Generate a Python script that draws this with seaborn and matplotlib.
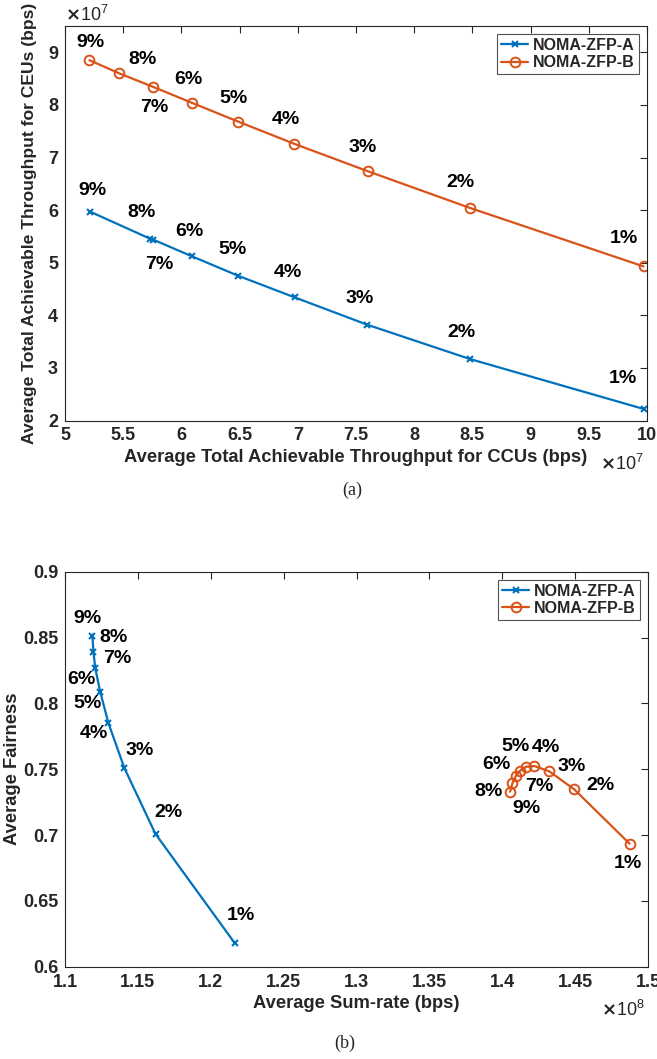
import pandas as pd
import matplotlib
matplotlib.use('Agg')
import matplotlib.pyplot as plt
import seaborn as sns

# (a) throughput for CCUs vs CEUs, in units of 1e7 bps
pct_labels = ['9%', '8%', '7%', '6%', '5%', '4%', '3%', '2%', '1%']
a_ccu_A = [5.216, 5.727, 5.756, 6.092, 6.489, 6.974, 7.598, 8.477, 9.970]
a_ceu_A = [5.97, 5.46, 5.44, 5.12, 4.75, 4.34, 3.82, 3.17, 2.22]
a_ccu_B = [5.21, 5.466, 5.76, 6.09, 6.49, 6.97, 7.60, 8.48, 9.97]
a_ceu_B = [8.85, 8.60, 8.34, 8.04, 7.68, 7.26, 6.74, 6.04, 4.93]

# (b) sum-rate (1e8 bps) vs fairness
b_rate_A = [1.1188, 1.1188, 1.1195, 1.1208, 1.1241, 1.1298, 1.1408, 1.1621, 1.2164]
b_fair_A = [0.854, 0.848, 0.839, 0.8266, 0.809, 0.785, 0.7507, 0.7008, 0.618]
b_rate_B = [1.4054, 1.4070, 1.4093, 1.4123, 1.4164, 1.4221, 1.4322, 1.4494, 1.4874]
b_fair_B = [0.7329, 0.7393, 0.7448, 0.7489, 0.7519, 0.7524, 0.7484, 0.7347, 0.6934]

# label offsets in pixels (dx, dy up positive)
off_a_A = [(2, 21), (-8, 26), (6, -25), (-3, 25), (-6, 26), (-7, 25), (-8, 26), (-8, 26), (-21, 30)]
off_a_B = [(1, 18), (23, 14), (1, -20), (-4, 23), (-5, 23), (-8, 24), (-5, 24), (-10, 25), (-20, 28)]
off_b_A = [(-5, 14), (21, 3), (24, -6), (-14, -11), (-13, -12), (-15, -10), (15, 18), (13, 21), (6, 28)]
off_b_B = [(16, -17), (-24, -8), (23, -10), (-24, 6), (-11, 20), (11, 19), (22, 5), (26, 4), (-2, -20)]

blue = '#0072BD'
orange = '#D95319'
axcol = '#262626'

sns.set_style('white')
plt.rcParams['font.family'] = ['Liberation Sans', 'DejaVu Sans']
plt.rcParams['font.weight'] = 'bold'
plt.rcParams['axes.labelweight'] = 'bold'

fig = plt.figure(figsize=(6.57, 10.59), dpi=100)
ax1 = fig.add_axes([65 / 657, 1 - 420.5 / 1059, 582 / 657, 394.5 / 1059])
ax2 = fig.add_axes([65 / 657, 1 - 966.7 / 1059, 583 / 657, 395 / 1059])


def draw(ax, xa, ya, xb, yb, offa, offb):
    dfa = pd.DataFrame({'x': xa, 'y': ya})
    dfb = pd.DataFrame({'x': xb, 'y': yb})
    sns.lineplot(data=dfa, x='x', y='y', sort=False, color=blue, marker='x',
                 markersize=5, markeredgewidth=1.5, markeredgecolor=blue,
                 linewidth=1.6, label='NOMA-ZFP-A', ax=ax)
    sns.lineplot(data=dfb, x='x', y='y', sort=False, color=orange, marker='o',
                 markersize=7, markerfacecolor='none', markeredgecolor=orange,
                 markeredgewidth=1.4, linewidth=1.6, label='NOMA-ZFP-B', ax=ax)
    for xs, ys, offs in ((xa, ya, offa), (xb, yb, offb)):
        for lab, x, y, o in zip(pct_labels, xs, ys, offs):
            ax.annotate(lab, (x, y), xytext=o, textcoords='offset pixels',
                        ha='center', va='center', fontsize=14, fontweight='bold',
                        color='black')
    ax.tick_params(direction='in', length=5, width=0.8, colors=axcol, labelsize=13,
                   top=True, right=True, labelcolor=axcol, pad=5)
    for s in ax.spines.values():
        s.set_color(axcol)
        s.set_linewidth(0.8)
    leg = ax.legend(loc='upper right', fontsize=11.5, frameon=True, fancybox=False,
                    handlelength=1.7, handletextpad=0.3, borderpad=0.25,
                    labelspacing=0.15, borderaxespad=0.5)
    leg.get_frame().set_edgecolor(axcol)
    leg.get_frame().set_linewidth(0.8)
    for t in leg.get_texts():
        t.set_fontweight('bold')


draw(ax1, a_ccu_A, a_ceu_A, a_ccu_B, a_ceu_B, off_a_A, off_a_B)
ax1.set_xlim(5, 10)
ax1.set_ylim(2, 9.5)
ax1.set_xticks([5, 5.5, 6, 6.5, 7, 7.5, 8, 8.5, 9, 9.5, 10])
ax1.set_xticklabels(['5', '5.5', '6', '6.5', '7', '7.5', '8', '8.5', '9', '9.5', '10'])
ax1.set_yticks([2, 3, 4, 5, 6, 7, 8, 9])
ax1.set_xlabel('Average Total Achievable Throughput for CCUs (bps)', fontsize=13.2,
               color=axcol, labelpad=3)
ax1.set_ylabel('Average Total Achievable Throughput for CEUs (bps)', fontsize=12.6,
               color=axcol)
ax1.yaxis.set_label_coords(-0.048, 0.5)
ax1.text(0.0, 1.003, r'$\times\mathregular{10^{7}}$', transform=ax1.transAxes, ha='left',
         va='bottom', fontsize=13, color=axcol, fontweight='normal')
ax1.text(0.995, -0.11, r'$\times\mathregular{10^{7}}$', transform=ax1.transAxes, ha='right',
         va='center', fontsize=13, color=axcol, fontweight='normal')

draw(ax2, b_rate_A, b_fair_A, b_rate_B, b_fair_B, off_b_A, off_b_B)
ax2.set_xlim(1.1, 1.5)
ax2.set_ylim(0.6, 0.9)
ax2.set_xticks([1.1, 1.15, 1.2, 1.25, 1.3, 1.35, 1.4, 1.45, 1.5])
ax2.set_xticklabels(['1.1', '1.15', '1.2', '1.25', '1.3', '1.35', '1.4', '1.45', '1.5'])
ax2.set_yticks([0.6, 0.65, 0.7, 0.75, 0.8, 0.85, 0.9])
ax2.set_yticklabels(['0.6', '0.65', '0.7', '0.75', '0.8', '0.85', '0.9'])
ax2.set_xlabel('Average Sum-rate (bps)', fontsize=13.2, color=axcol, labelpad=3)
ax2.set_ylabel('Average Fairness', fontsize=13.2, color=axcol)
ax2.yaxis.set_label_coords(-0.076, 0.5)
ax2.text(0.995, -0.11, r'$\times\mathregular{10^{8}}$', transform=ax2.transAxes, ha='right',
         va='center', fontsize=13, color=axcol, fontweight='normal')

fig.text(352 / 657, 1 - 490 / 1059, '(a)', ha='center', va='center', fontsize=13,
         family='Liberation Serif', fontweight='normal')
fig.text(345 / 657, 1 - 1043 / 1059, '(b)', ha='center', va='center', fontsize=13,
         family='Liberation Serif', fontweight='normal')

plt.savefig('out.png', dpi=100)
plt.close()
